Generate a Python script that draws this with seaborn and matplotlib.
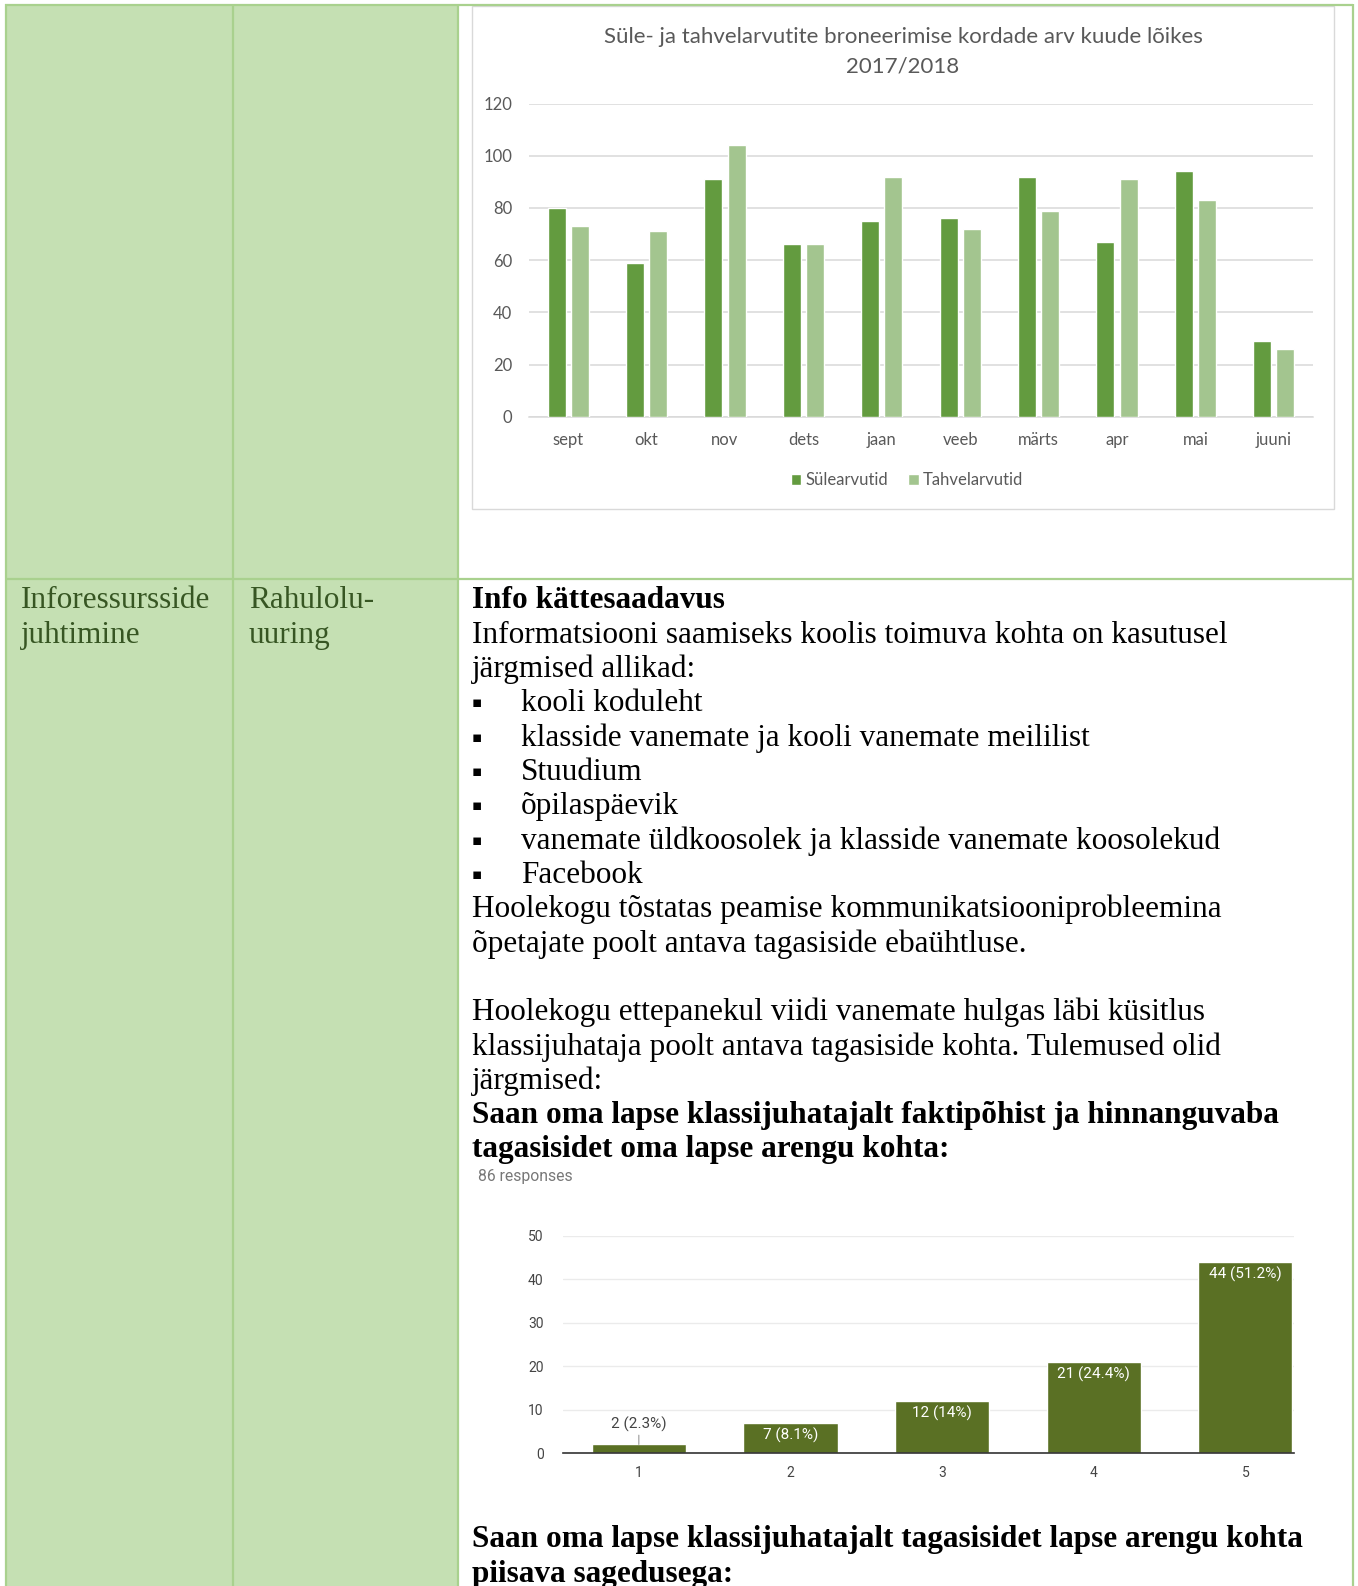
import matplotlib
matplotlib.use("Agg")
import matplotlib.pyplot as plt
import seaborn as sns
import pandas as pd
from matplotlib.patches import Rectangle

# ---------------- data ----------------
months = ["sept", "okt", "nov", "dets", "jaan", "veeb", "märts", "apr", "mai", "juuni"]
sulearvutid = [80, 59, 91, 66, 75, 76, 92, 67, 94, 29]
tahvelarvutid = [73, 71, 104, 66, 92, 72, 79, 91, 83, 26]
series_names = ["Sülearvutid", "Tahvelarvutid"]
chart1_title = "Süle- ja tahvelarvutite broneerimise kordade arv kuude lõikes\n2017/2018"
chart1_yticks = [0, 20, 40, 60, 80, 100, 120]

answers = ["1", "2", "3", "4", "5"]
answer_counts = [2, 7, 12, 21, 44]
answer_pcts = ["2.3", "8.1", "14", "24.4", "51.2"]
chart2_yticks = [0, 10, 20, 30, 40, 50]
responses_label = "86 responses"

col1_lines = ["Inforessursside", "juhtimine"]
col2_lines = ["Rahulolu-", "uuring"]
heading1 = "Info kättesaadavus"
para1 = ["Informatsiooni saamiseks koolis toimuva kohta on kasutusel",
         "järgmised allikad:"]
bullets = ["kooli koduleht",
           "klasside vanemate ja kooli vanemate meililist",
           "Stuudium",
           "õpilaspäevik",
           "vanemate üldkoosolek ja klasside vanemate koosolekud",
           "Facebook"]
para2 = ["Hoolekogu tõstatas peamise kommunikatsiooniprobleemina",
         "õpetajate poolt antava tagasiside ebaühtluse."]
para3 = ["Hoolekogu ettepanekul viidi vanemate hulgas läbi küsitlus",
         "klassijuhataja poolt antava tagasiside kohta. Tulemused olid",
         "järgmised:"]
question1 = ["Saan oma lapse klassijuhatajalt faktipõhist ja hinnanguvaba",
             "tagasisidet oma lapse arengu kohta:"]
question2 = ["Saan oma lapse klassijuhatajalt tagasisidet lapse arengu kohta",
             "piisava sagedusega:"]

# ---------------- styling ----------------
W, H = 1358, 1586
GREEN_FILL = "#C5E0B3"
GREEN_LINE = "#A9D18E"
CELL_TEXT = "#375623"
DARK = "#639B3F"
LIGHT = "#A3C58F"
OLIVE = "#5A7024"
SERIF = ["Liberation Serif", "DejaVu Serif"]
CHART_FONT = ["Lato", "DejaVu Sans"]
GFONT = ["Roboto", "DejaVu Sans"]

sns.set_theme(style="white")
plt.rcParams["font.family"] = ["Liberation Serif", "DejaVu Sans"]

fig = plt.figure(figsize=(W / 100, H / 100), dpi=100)
fig.patch.set_facecolor("white")

# background / document axes in pixel coordinates
bg = fig.add_axes([0, 0, 1, 1])
bg.set_xlim(0, W)
bg.set_ylim(H, 0)
bg.axis("off")

bg.add_patch(Rectangle((5, 4), 453, H, facecolor=GREEN_FILL, edgecolor="none"))
lw = 1.6
bg.plot([5, 1353], [4.5, 4.5], color=GREEN_LINE, lw=lw, solid_capstyle="butt")
bg.plot([5, 1353], [579, 579], color=GREEN_LINE, lw=lw, solid_capstyle="butt")
for x in [5.5, 233, 458, 1352.5]:
    bg.plot([x, x], [4, H], color=GREEN_LINE, lw=lw, solid_capstyle="butt")

# chart 1 frame
bg.add_patch(Rectangle((472, 6), 862, 503, facecolor="white", edgecolor="#D9D9D9", lw=1.0))

# text in the table
FS = 22.5
DY = 3
step = 34.3
for i, t in enumerate(col1_lines):
    bg.text(21, 598 + DY + step * i, t, color=CELL_TEXT, fontsize=FS, family=SERIF, va="center")
for i, t in enumerate(col2_lines):
    bg.text(249, 598 + DY + step * i, t, color=CELL_TEXT, fontsize=FS, family=SERIF, va="center")

X0 = 472
y = 598 + DY
bg.text(X0, y, heading1, fontsize=FS, family=SERIF, weight="bold", va="center", color="black")
y += step
for t in para1:
    bg.text(X0, y, t, fontsize=FS, family=SERIF, va="center", color="black")
    y += step
for t in bullets:
    bg.text(477, y - 1, "▪", fontsize=11, family=["DejaVu Sans"], va="center", ha="center", color="black")
    bg.text(521, y, t, fontsize=FS, family=SERIF, va="center", color="black")
    y += step
for t in para2:
    bg.text(X0, y, t, fontsize=FS, family=SERIF, va="center", color="black")
    y += step
y += step
for t in para3:
    bg.text(X0, y, t, fontsize=FS, family=SERIF, va="center", color="black")
    y += step
for t in question1:
    bg.text(X0, y, t, fontsize=FS, family=SERIF, weight="bold", va="center", color="black")
    y += step
bg.text(478, 1176, responses_label, fontsize=11.3, family=GFONT, va="center", color="#777777")
for i, t in enumerate(question2):
    bg.text(X0, 1537 + DY + step * i, t, fontsize=FS, family=SERIF, weight="bold", va="center", color="black")

bg.text(903, 37, chart1_title.split("\n")[0], fontsize=16, family=CHART_FONT, ha="center", va="center", color="#595959")
bg.text(903, 66.5, chart1_title.split("\n")[1], fontsize=16, family=CHART_FONT, ha="center", va="center", color="#595959")

# ---------------- chart 1 ----------------
def fig_rect(left, top, right, bottom):
    return [left / W, 1 - bottom / H, (right - left) / W, (bottom - top) / H]

ax1 = fig.add_axes(fig_rect(529, 103.5, 1313, 416.7))
ax1.set_facecolor("none")
df1 = pd.DataFrame({
    "month": months * 2,
    "value": sulearvutid + tahvelarvutid,
    "type": [series_names[0]] * len(months) + [series_names[1]] * len(months),
})
sns.barplot(data=df1, x="month", y="value", hue="type", order=months, hue_order=series_names,
            palette=[DARK, LIGHT], width=0.59, gap=0.22, saturation=1, ax=ax1, zorder=3)
ax1.set_ylim(0, 120)
ax1.set_xlim(-0.5, len(months) - 0.5)
ax1.set_yticks(chart1_yticks)
ax1.yaxis.grid(True, color="#D9D9D9", lw=1.1, zorder=0)
ax1.set_axisbelow(True)
for s in ["top", "right", "left"]:
    ax1.spines[s].set_visible(False)
ax1.spines["bottom"].set_color("#D9D9D9")
ax1.spines["bottom"].set_linewidth(1.1)
ax1.tick_params(axis="both", length=0, labelsize=12, labelcolor="#595959")
ax1.tick_params(axis="y", pad=12)
ax1.tick_params(axis="x", pad=11)
for lab in ax1.get_xticklabels() + ax1.get_yticklabels():
    lab.set_family(CHART_FONT)
ax1.set_xlabel("")
ax1.set_ylabel("")
sns.move_legend(ax1, loc="center", bbox_to_anchor=((907 - 529) / 784, (416.7 - 480) / 313.2),
                ncol=2, frameon=False, title=None, handlelength=0.65, handleheight=0.65,
                handletextpad=0.25, columnspacing=1.2,
                prop={"family": CHART_FONT, "size": 12})
for t in ax1.get_legend().get_texts():
    t.set_color("#595959")

# ---------------- chart 2 ----------------
ax2 = fig.add_axes(fig_rect(563, 1235.7, 1294, 1453.1))
ax2.set_facecolor("none")
df2 = pd.DataFrame({"answer": answers, "count": answer_counts})
sns.barplot(data=df2, x="answer", y="count", order=answers, color=OLIVE, saturation=1,
            width=0.62, ax=ax2, zorder=3)
ax2.set_ylim(0, 50)
ax2.set_xlim(-0.5, 4.32)
ax2.set_yticks(chart2_yticks)
ax2.yaxis.grid(True, color="#EBEBEB", lw=1.0, zorder=0)
ax2.set_axisbelow(True)
for s in ["top", "right", "left"]:
    ax2.spines[s].set_visible(False)
ax2.spines["bottom"].set_color("#333333")
ax2.spines["bottom"].set_linewidth(1.2)
ax2.spines["bottom"].set_zorder(5)
ax2.tick_params(axis="both", length=0, labelsize=10, labelcolor="#444444")
ax2.tick_params(axis="y", pad=14)
ax2.tick_params(axis="x", pad=9)
for lab in ax2.get_xticklabels() + ax2.get_yticklabels():
    lab.set_family(GFONT)
ax2.set_xlabel("")
ax2.set_ylabel("")

for i, (c, p) in enumerate(zip(answer_counts, answer_pcts)):
    label = f"{c} ({p}%)"
    if c >= 5:
        ax2.annotate(label, (i, c), xytext=(0, -9), textcoords="offset points",
                     ha="center", va="center", color="white", fontsize=11, family=GFONT, zorder=6)
    else:
        ax2.annotate(label, (i, c), xytext=(0, 9), textcoords="offset points",
                     ha="center", va="bottom", color="#444444", fontsize=11, family=GFONT,
                     arrowprops=dict(arrowstyle="-", color="#999999", lw=0.8,
                                     shrinkA=0, shrinkB=0), zorder=6)

fig.savefig("out.png", dpi=100, facecolor="white")
